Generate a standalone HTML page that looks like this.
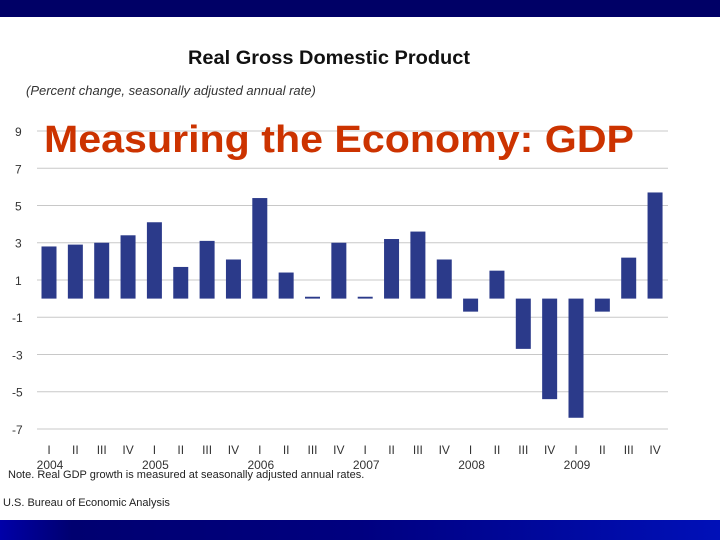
<!DOCTYPE html>
<html><head><meta charset="utf-8"><style>
body{margin:0;width:720px;height:540px;overflow:hidden;background:#fff;font-family:"Liberation Sans",sans-serif}
</style></head><body>
<svg width="720" height="540" xmlns="http://www.w3.org/2000/svg">
<defs><linearGradient id="bg" x1="0" x2="1"><stop offset="0" stop-color="#0000a8"/><stop offset="0.1" stop-color="#000070"/><stop offset="0.5" stop-color="#000080"/><stop offset="1" stop-color="#0010b8"/></linearGradient></defs>
<rect x="0" y="0" width="720" height="17" fill="#000066"/>
<rect x="0" y="520" width="720" height="20" fill="url(#bg)"/>
<text x="188" y="64" font-size="19" font-weight="bold" fill="#111" textLength="282" lengthAdjust="spacingAndGlyphs">Real Gross Domestic Product</text>
<text x="26" y="95" font-size="13" font-style="italic" fill="#333">(Percent change, seasonally adjusted annual rate)</text>
<g id="grid"></g>
<g id="bars"></g>
<g id="xlabels"></g>
<text x="44" y="152" font-size="38" font-weight="bold" fill="#cc3300" textLength="590" lengthAdjust="spacingAndGlyphs">Measuring the Economy: GDP</text>
<text x="8" y="478" font-size="11" fill="#222">Note.  Real GDP growth is measured at seasonally adjusted annual rates.</text>
<text x="3" y="506" font-size="11" fill="#222">U.S. Bureau of Economic Analysis</text>
</svg>
<script>
const quarters=["I","II","III","IV","I","II","III","IV","I","II","III","IV","I","II","III","IV","I","II","III","IV","I","II","III","IV"];
const years=["2004","2005","2006","2007","2008","2009"];
const values=[2.8,2.9,3.0,3.4,4.1,1.7,3.1,2.1,5.4,1.4,0.1,3.0,0.1,3.2,3.6,2.1,-0.7,1.5,-2.7,-5.4,-6.4,-0.7,2.2,5.7];
const ticks=[9,7,5,3,1,-1,-3,-5,-7];
const NS="http://www.w3.org/2000/svg";
const y=v=>298.6-v*18.62;
const x=i=>49+i*26.35;
const mk=(t,a)=>{const e=document.createElementNS(NS,t);for(const k in a)e.setAttribute(k,a[k]);return e;};
const g=document.getElementById('grid'),b=document.getElementById('bars'),xl=document.getElementById('xlabels');
ticks.forEach(t=>{
 const l=mk('line',{x1:37,x2:668,y1:y(t),y2:y(t),stroke:'#c8c8c8','stroke-width':1});
 
 
 g.appendChild(l);
 const tx=mk('text',{x:t<0?12:15,y:y(t)+5,'font-size':12,fill:'#333'});tx.textContent=t;
 
 
 g.appendChild(tx);
});
values.forEach((v,i)=>{
 const r=mk('rect',{x:x(i)-7.5,width:15,y:Math.min(y(v),y(0)),height:Math.abs(y(v)-y(0)),fill:'#2b3a8a'});
 
 
 b.appendChild(r);
});
quarters.forEach((q,i)=>{
 const t=mk('text',{x:x(i),y:454,'text-anchor':'middle','font-size':12,fill:'#333'});t.textContent=q;
 
 
 xl.appendChild(t);
});
years.forEach((yr,i)=>{
 const t=mk('text',{x:x(i*4)+1,y:469,'text-anchor':'middle','font-size':12,fill:'#333'});t.textContent=yr;
 
 
 xl.appendChild(t);
});
</script>
</body></html>
